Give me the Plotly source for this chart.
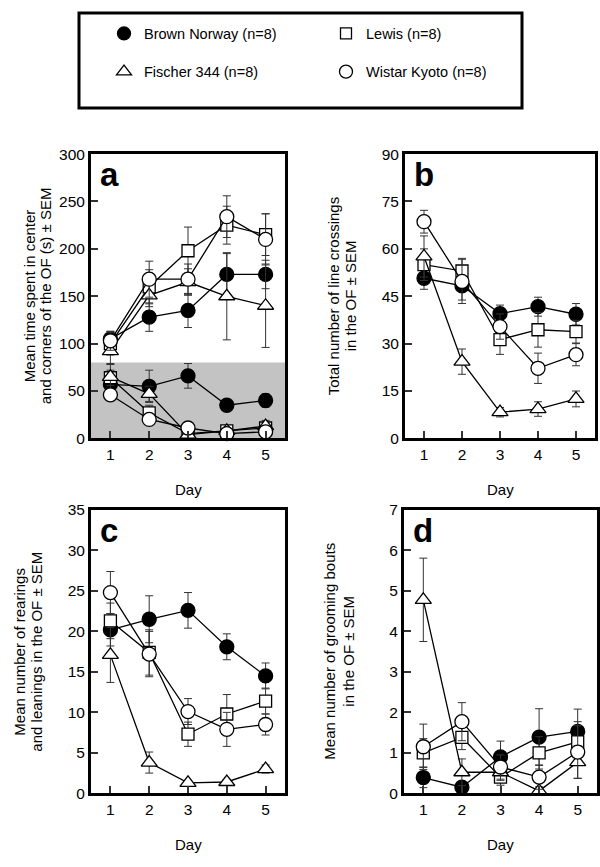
import plotly.graph_objects as go

W, H = 600, 867

days = [1, 2, 3, 4, 5]
strains = ["Brown Norway (n=8)", "Lewis (n=8)", "Fischer 344 (n=8)", "Wistar Kyoto (n=8)"]

# Panel a: time in corners (upper group) and center (lower, grey band)
a_corners_bn = [105, 128, 135, 173, 173]
a_corners_bn_err = [8, 15, 18, 22, 15]
a_corners_lew = [100, 160, 198, 225, 215]
a_corners_lew_err = [12, 18, 25, 20, 22]
a_corners_f344 = [92, 151, 165, 150, 140]
a_corners_f344_err = [14, 12, 14, 46, 44]
a_corners_wky = [103, 168, 168, 234, 210]
a_corners_wky_err = [10, 19, 16, 22, 27]

a_center_bn = [57, 55, 66, 35, 40]
a_center_bn_err = [5, 17, 13, 4, 7]
a_center_lew = [64, 27, 5, 8, 11]
a_center_lew_err = [8, 8, 2, 2, 3]
a_center_f344 = [65, 47, 4, 8, 13]
a_center_f344_err = [14, 8, 2, 3, 6]
a_center_wky = [46, 20, 11, 5, 7]
a_center_wky_err = [5, 5, 3, 2, 3]
a_center_band = [0, 80]

# Panel b: line crossings
b_bn = [50.7, 48.3, 39.5, 41.7, 39.3]
b_bn_err = [3.5, 4.5, 2.7, 3.0, 3.4]
b_lew = [55.0, 53.0, 31.3, 34.4, 33.8]
b_lew_err = [5.0, 4.0, 4.7, 5.5, 3.6]
b_f344 = [57.6, 24.3, 8.3, 9.3, 12.5]
b_f344_err = [6.5, 4.0, 1.5, 2.3, 2.5]
b_wky = [68.6, 49.7, 35.4, 22.2, 26.5]
b_wky_err = [3.6, 7.0, 4.0, 4.8, 3.5]

# Panel c: rearings and leanings
c_bn = [20.2, 21.5, 22.6, 18.1, 14.5]
c_bn_err = [2.0, 2.9, 2.2, 1.6, 1.6]
c_lew = [21.3, 17.4, 7.3, 9.8, 11.4]
c_lew_err = [2.2, 2.8, 1.5, 2.4, 1.6]
c_f344 = [17.1, 3.8, 1.3, 1.4, 3.0]
c_f344_err = [3.4, 1.3, 0.3, 0.3, 0.5]
c_wky = [24.8, 17.2, 10.1, 7.9, 8.5]
c_wky_err = [2.6, 2.8, 1.6, 2.1, 1.3]

# Panel d: grooming bouts
d_bn = [0.39, 0.15, 0.9, 1.39, 1.53]
d_bn_err = [0.25, 0.1, 0.39, 0.7, 0.55]
d_lew = [1.0, 1.38, 0.4, 1.0, 1.27]
d_lew_err = [0.35, 0.3, 0.2, 0.4, 0.5]
d_f344 = [4.78, 0.52, 0.52, 0.06, 0.77]
d_f344_err = [1.03, 0.33, 0.2, 0.1, 0.4]
d_wky = [1.15, 1.77, 0.65, 0.4, 1.02]
d_wky_err = [0.56, 0.47, 0.3, 0.3, 0.65]

FONT = "Liberation Sans, Arial, sans-serif"

styles = [
    dict(symbol="circle", size=14, color="black"),
    dict(symbol="square", size=12, color="white"),
    dict(symbol="triangle-up", size=14, color="white"),
    dict(symbol="circle", size=14, color="white"),
]

fig = go.Figure()


def add_series(xa, ya, values, errs, k):
    st = styles[k]
    fig.add_trace(go.Scatter(
        x=days, y=values, mode="lines+markers", xaxis=xa, yaxis=ya,
        showlegend=False, cliponaxis=False,
        line=dict(color="black", width=1.3),
        marker=dict(symbol=st["symbol"], size=st["size"], color=st["color"],
                    line=dict(color="black", width=1.3)),
        error_y=dict(type="data", array=errs, visible=True, color="#333333",
                     thickness=1, width=4),
    ))


# panel a: grey band (center zone)
fig.add_trace(go.Scatter(
    x=[0.5, 5.5, 5.5, 0.5], y=[a_center_band[0], a_center_band[0], a_center_band[1], a_center_band[1]],
    xaxis="x", yaxis="y", fill="toself", fillcolor="#c3c3c3", mode="none",
    showlegend=False, hoverinfo="skip"))

panels = [
    ("x", "y", [(a_corners_bn, a_corners_bn_err), (a_corners_lew, a_corners_lew_err),
                (a_corners_f344, a_corners_f344_err), (a_corners_wky, a_corners_wky_err)]),
    ("x", "y", [(a_center_bn, a_center_bn_err), (a_center_lew, a_center_lew_err),
                (a_center_f344, a_center_f344_err), (a_center_wky, a_center_wky_err)]),
    ("x2", "y2", [(b_bn, b_bn_err), (b_lew, b_lew_err), (b_f344, b_f344_err), (b_wky, b_wky_err)]),
    ("x3", "y3", [(c_bn, c_bn_err), (c_lew, c_lew_err), (c_f344, c_f344_err), (c_wky, c_wky_err)]),
    ("x4", "y4", [(d_bn, d_bn_err), (d_lew, d_lew_err), (d_f344, d_f344_err), (d_wky, d_wky_err)]),
]
for xa, ya, series in panels:
    for k, (v, e) in enumerate(series):
        add_series(xa, ya, v, e, k)

# legend entries (markers only), one legend per entry for exact placement
legend_names = ["legend", "legend2", "legend3", "legend4"]
for k, name in enumerate(strains):
    st = styles[k]
    fig.add_trace(go.Scatter(
        x=[None], y=[None], mode="markers", name=name, legend=legend_names[k],
        marker=dict(symbol=st["symbol"], size=st["size"] - 1, color=st["color"],
                    line=dict(color="black", width=1.3)),
    ))

# pixel boxes of the four plot areas: (left, right, top, bottom)
boxes = {
    "a": (91, 285, 148, 438),
    "b": (405, 595, 148, 438),
    "c": (91, 285, 511, 800),
    "d": (404, 597, 511, 800),
}
yranges = {"a": (0, 300, 50), "b": (0, 90, 15), "c": (0, 35, 5), "d": (0, 7, 1)}
suffix = {"a": "", "b": "2", "c": "3", "d": "4"}

axis_common = dict(showline=True, mirror=True, linewidth=3, linecolor="black",
                   ticks="inside", ticklen=7, tickwidth=1.5, tickcolor="#333333",
                   showgrid=False, zeroline=False, fixedrange=True,
                   tickfont=dict(family=FONT, size=15.5, color="black"))

layout = {}
for key, (l, r, t, b) in boxes.items():
    s = suffix[key]
    layout["xaxis" + s] = dict(axis_common, domain=[l / W, r / W], anchor="y" + s,
                               range=[0.5, 5.5], tickvals=days)
    y0, y1, dt = yranges[key]
    layout["yaxis" + s] = dict(axis_common, domain=[1 - b / H, 1 - t / H], anchor="x" + s,
                               range=[y0, y1], dtick=dt, tick0=0)

fig.update_layout(**layout)

annotations = []
# panel letters
for key, (l, r, t, b) in boxes.items():
    annotations.append(dict(text="<b>%s</b>" % key, x=(l + 7) / W, y=1 - (t + 21) / H,
                            xref="paper", yref="paper", xanchor="left", yanchor="middle",
                            showarrow=False, font=dict(family=FONT, size=33, color="black")))
    # Day titles
    annotations.append(dict(text="Day", x=(l + r) / 2 / W, y=1 - (b + 52) / H,
                            xref="paper", yref="paper", xanchor="center", yanchor="middle",
                            showarrow=False, font=dict(family=FONT, size=15, color="black")))

ytitles = {
    "a": [("Mean time spent in center", 29), ("and corners of the OF (s) ± SEM", 45)],
    "b": [("Total number of line crossings", 333), ("in the OF ± SEM", 350)],
    "c": [("Mean number of rearings", 20), ("and leanings in the OF ± SEM", 37)],
    "d": [("Mean number of grooming bouts", 330), ("in the OF ± SEM", 349)],
}
for key, lines in ytitles.items():
    l, r, t, b = boxes[key]
    for txt, xp in lines:
        annotations.append(dict(text=txt, x=xp / W, y=1 - (t + b) / 2 / H, textangle=-90,
                                xref="paper", yref="paper", xanchor="center", yanchor="middle",
                                showarrow=False, font=dict(family=FONT, size=15, color="black")))

legend_pos = [(123, 33), (345, 33), (123, 72), (345, 72)]
for name, (px, py) in zip(legend_names, legend_pos):
    layout_leg = dict(x=(px - 19) / W, y=1 - (py - 8) / H, xanchor="left", yanchor="middle",
                      bgcolor="rgba(0,0,0,0)", borderwidth=0,
                      font=dict(family=FONT, size=14.5, color="black"))
    fig.update_layout(**{name: layout_leg})

fig.update_layout(
    width=W, height=H, margin=dict(l=0, r=0, t=0, b=0),
    paper_bgcolor="white", plot_bgcolor="white",
    annotations=annotations,
    shapes=[dict(type="rect", xref="paper", yref="paper",
                 x0=79 / W, x1=522 / W, y0=1 - 101 / H, y1=1 - 4 / H,
                 line=dict(color="black", width=3))],
    font=dict(family=FONT, size=15, color="black"),
)

fig.write_html("out.html", config={"displayModeBar": False},
               post_script="document.body.style.margin='0';")
